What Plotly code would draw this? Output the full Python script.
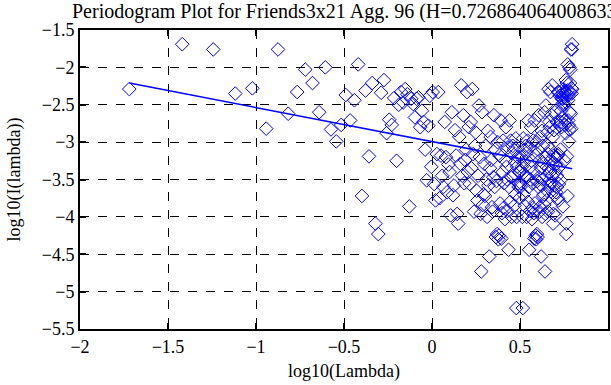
import plotly.graph_objects as go

# log10 of the Fourier frequencies (k = 1..329)
log_lambda = [
    -1.720, -1.419, -1.243, -1.118, -1.021, -0.942, -0.875, -0.817, -0.766, -0.720,
    -0.679, -0.641, -0.606, -0.574, -0.544, -0.516, -0.490, -0.465, -0.441, -0.419,
    -0.398, -0.378, -0.358, -0.340, -0.322, -0.305, -0.289, -0.273, -0.258, -0.243,
    -0.229, -0.215, -0.201, -0.189, -0.176, -0.164, -0.152, -0.140, -0.129, -0.118,
    -0.107, -0.097, -0.087, -0.077, -0.067, -0.057, -0.048, -0.039, -0.030, -0.021,
    -0.012, -0.004, 0.004, 0.012, 0.020, 0.028, 0.036, 0.043, 0.051, 0.058,
    0.065, 0.072, 0.079, 0.086, 0.093, 0.100, 0.106, 0.113, 0.119, 0.125,
    0.131, 0.137, 0.143, 0.149, 0.155, 0.161, 0.166, 0.172, 0.178, 0.183,
    0.188, 0.194, 0.199, 0.204, 0.209, 0.214, 0.220, 0.224, 0.229, 0.234,
    0.239, 0.244, 0.248, 0.253, 0.258, 0.262, 0.267, 0.271, 0.276, 0.280,
    0.284, 0.289, 0.293, 0.297, 0.301, 0.305, 0.309, 0.313, 0.317, 0.321,
    0.325, 0.329, 0.333, 0.337, 0.341, 0.344, 0.348, 0.352, 0.356, 0.359,
    0.363, 0.366, 0.370, 0.373, 0.377, 0.380, 0.384, 0.387, 0.391, 0.394,
    0.397, 0.401, 0.404, 0.407, 0.410, 0.414, 0.417, 0.420, 0.423, 0.426,
    0.429, 0.432, 0.435, 0.438, 0.441, 0.444, 0.447, 0.450, 0.453, 0.456,
    0.459, 0.462, 0.465, 0.468, 0.470, 0.473, 0.476, 0.479, 0.481, 0.484,
    0.487, 0.490, 0.492, 0.495, 0.497,
    0.500, 0.503, 0.505, 0.508, 0.510, 0.513, 0.516, 0.518, 0.521, 0.523,
    0.526, 0.528, 0.530, 0.533, 0.535, 0.538, 0.540, 0.543, 0.545, 0.547,
    0.550, 0.552, 0.554, 0.557, 0.559, 0.561, 0.563, 0.566, 0.568, 0.570,
    0.572, 0.575, 0.577, 0.579, 0.581, 0.583, 0.585, 0.588, 0.590, 0.592,
    0.594, 0.596, 0.598, 0.600, 0.602, 0.604, 0.606, 0.608, 0.610, 0.612,
    0.614, 0.616, 0.618, 0.620, 0.622, 0.624, 0.626, 0.628, 0.630, 0.632,
    0.634, 0.636, 0.638, 0.640, 0.642, 0.644, 0.645, 0.647, 0.649, 0.651,
    0.653, 0.655, 0.657, 0.658, 0.660, 0.662, 0.664, 0.666, 0.667, 0.669,
    0.671, 0.673, 0.674, 0.676, 0.678, 0.680, 0.681, 0.683, 0.685, 0.686,
    0.688, 0.690, 0.692, 0.693, 0.695, 0.697, 0.698, 0.700, 0.702, 0.703,
    0.705, 0.706, 0.708, 0.710, 0.711, 0.713, 0.715, 0.716, 0.718, 0.719,
    0.721, 0.722, 0.724, 0.726, 0.727, 0.729, 0.730, 0.732, 0.733, 0.735,
    0.736, 0.738, 0.739, 0.741, 0.742, 0.744, 0.745, 0.747, 0.748, 0.750,
    0.751, 0.753, 0.754, 0.756, 0.757, 0.759, 0.760, 0.761, 0.763, 0.764,
    0.766, 0.767, 0.769, 0.770, 0.771, 0.773, 0.774, 0.776, 0.777, 0.778,
    0.780, 0.781, 0.782, 0.784, 0.785, 0.787, 0.788, 0.789, 0.791, 0.792,
    0.793, 0.795, 0.796, 0.797,
]

# log10(I(lambda)) for k = 1..165
log_I_half = [
    -2.29, -1.69, -1.76, -2.35, -2.28, -2.82, -1.76, -2.62, -2.33, -2.03,
    -2.21, -2.60, -2.00, -2.83, -2.99, -2.77, -2.37, -2.71, -2.44, -1.96,
    -3.72, -2.31, -3.19, -2.21, -4.09, -4.23, -2.34, -2.17, -2.88, -2.70,
    -2.77, -2.41, -3.25, -2.50, -2.33, -2.47, -2.29, -2.36, -3.86, -2.42,
    -2.49, -2.67, -2.42, -2.40, -2.80, -2.58, -2.73, -3.10, -3.51, -2.78,
    -2.38, -3.33, -2.33, -3.56, -3.78, -3.16, -2.33, -3.75, -3.18, -3.45,
    -3.60, -2.73, -3.20, -3.67, -3.30, -3.40, -3.98, -2.60, -3.71, -3.58,
    -2.84, -3.18, -3.96, -4.09, -2.93, -3.29, -2.24, -3.45, -2.64, -3.55,
    -3.24, -3.10, -2.33, -3.40, -2.80, -3.56, -2.73, -3.35, -2.29, -3.16,
    -3.93, -3.05, -2.87, -3.65, -3.78, -3.45, -2.51, -3.20, -3.96, -4.73,
    -2.60, -3.84, -3.70, -3.29, -3.72, -3.05, -3.50, -4.00, -2.85, -3.58,
    -4.53, -3.35, -2.93, -3.24, -3.87, -3.93, -3.47, -2.64, -3.60, -3.10,
    -4.27, -3.52, -4.23, -3.00, -4.30, -4.25, -3.18, -3.82, -2.71, -4.29,
    -3.95, -3.40, -2.98, -3.88, -3.55, -4.03, -3.25, -2.80, -3.33, -3.50,
    -3.92, -3.07, -4.44, -3.60, -2.71, -3.80, -2.98, -3.47, -4.00, -3.15,
    -3.05, -3.45, -3.10, -3.85, -3.27, -3.70, -2.95, -5.22, -4.00, -3.33,
    -3.20, -3.55, -3.60, -3.40, -3.75,
]
# periodogram is symmetric: I(2*pi - lambda) = I(lambda)
log_I = log_I_half + log_I_half[:164][::-1]

# least-squares fit line end points
fit_x = [-1.720, 0.797]
fit_y = [-2.21, -3.355]

title_text = "Periodogram Plot for Friends3x21 Agg. 96 (H=0.726864064008633)"
x_ticks = [-2, -1.5, -1, -0.5, 0, 0.5, 1]
y_ticks = [-5.5, -5, -4.5, -4, -3.5, -3, -2.5, -2, -1.5]

SERIF = "Liberation Serif"
BLUE = "#0000ff"
fig = go.Figure()
fig.add_trace(go.Scatter(
    x=log_lambda, y=log_I, mode="markers",
    marker=dict(symbol="diamond-open", size=10.5, color=BLUE, line=dict(width=1, color=BLUE)),
    hoverinfo="skip",
))
fig.add_trace(go.Scatter(
    x=fit_x, y=fit_y, mode="lines",
    line=dict(color=BLUE, width=1.5), hoverinfo="skip",
))

axis_common = dict(
    showgrid=True, gridcolor="black", griddash="dash", gridwidth=1,
    showline=True, linecolor="black", linewidth=2, mirror="ticks",
    ticks="inside", ticklen=6, tickwidth=1.5, tickcolor="black",
    zeroline=False, automargin=False,
    tickfont=dict(family=SERIF, size=18, color="black"),
)

fig.update_layout(
    width=611, height=385,
    margin=dict(l=80, r=3, t=30, b=56),
    paper_bgcolor="white", plot_bgcolor="white",
    showlegend=False,
    font=dict(family=SERIF, size=18, color="black"),
    xaxis=dict(range=[-2, 1], tickvals=x_ticks,
               title=dict(text="log10(Lambda)", font=dict(family=SERIF, size=18), standoff=9),
               **axis_common),
    yaxis=dict(range=[-5.5, -1.5], tickvals=y_ticks,
               title=dict(text="log10(I(lambda))", font=dict(family=SERIF, size=18), standoff=16),
               **axis_common),
    annotations=[dict(
        text=title_text, xref="paper", yref="paper",
        x=-10 / 528, y=1 + 19 / 299, xanchor="left", yanchor="middle",
        showarrow=False, font=dict(family=SERIF, size=20, color="black"),
    )],
)

fig.write_html("out.html", config={"displayModeBar": False},
               post_script="document.body.style.margin='0';")
